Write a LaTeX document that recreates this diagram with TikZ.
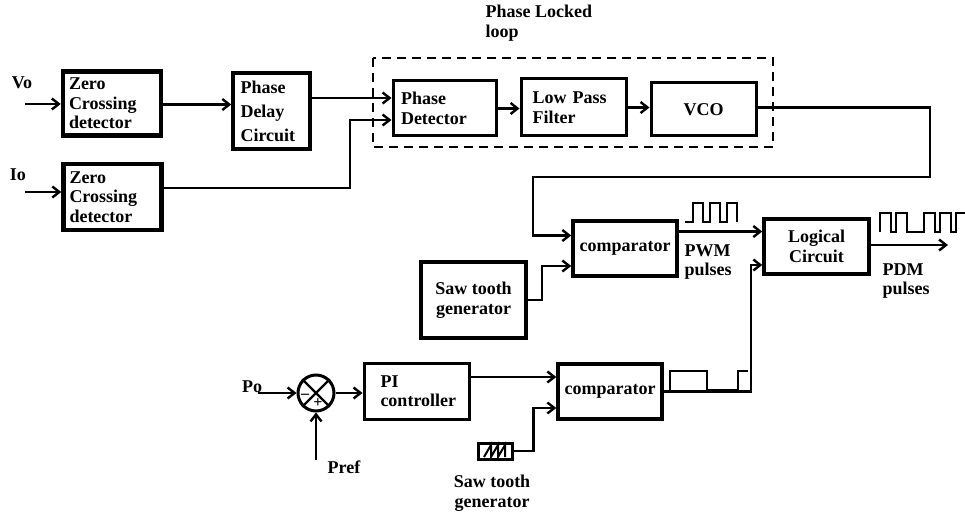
\documentclass[tikz,border=0pt]{standalone}
\usepackage{fontspec}
\setmainfont{Liberation Serif}
\usetikzlibrary{arrows.meta,calc}

\begin{document}
\begin{tikzpicture}[
        x=1pt,   % 1 unit = 1 px of the sheet
        y=-1pt,  % y runs downwards
        every node/.style={font=\bfseries\fontsize{18}{19.5}\selectfont},
        block/.style={draw, line width=3pt, inner sep=0pt, align=left},
        heavy/.style={block, line width=4.5pt},
        arr/.style={-{Straight Barb[length=7pt,width=11pt]}, line width=2.4pt},
        wave/.style={line width=2pt},
    ]

    \useasboundingbox (0,0) rectangle (965,518);

    % Zero crossing detectors
    \node (vo) at (22,83) {Vo};
    \node (io) at (18,175) {Io};
    \node[heavy, minimum width=98pt, minimum height=64pt, text width=86pt] (zcdA) at (112,103.5) {Zero\\Crossing\\detector};
    \node[heavy, minimum width=98pt, minimum height=66pt, text width=86pt] (zcdB) at (112.5,197) {Zero\\Crossing\\detector};
    \coordinate (voIn) at (25,104);
    \coordinate (ioIn) at (25,192);
    \draw[arr] (voIn) -- (voIn -| zcdA.west);
    \draw[arr] (ioIn) -- (ioIn -| zcdB.west);

    % Phase delay
    \node[block, line width=3.5pt, minimum width=77pt, minimum height=76pt, text width=62pt,
          font=\bfseries\fontsize{18}{24}\selectfont] (pdc) at (271.5,111) {Phase\\Delay\\Circuit};
    \draw[arr] ([yshift=-1pt]zcdA.east) -- ([yshift=-1pt]zcdA.east -| pdc.west);

    % Phase locked loop
    \node[align=left, anchor=west] (pllTitle) at (482,23) {Phase Locked\\loop};
    \draw[dash pattern=on 9pt off 6pt, line width=2pt] (373,58) rectangle (773,147);
    \node[block, minimum width=103pt, minimum height=55pt, text width=87pt] (pd) at (444.5,108.5) {Phase\\Detector};
    \node[block, minimum width=105pt, minimum height=57pt, text width=82pt, xshift=3pt] (lpf) at (570.5,107.5) {Low Pass\\Filter};
    \node[block, minimum width=105pt, minimum height=53pt, align=center] (vco) at (703.5,109.5) {VCO};
    \coordinate (jn) at (350,120);
    \draw[arr] ([yshift=13pt]pdc.east) -- ([yshift=13pt]pdc.east -| pd.west);
    \draw[arr] ([yshift=9pt]zcdB.east) -| (jn) -- (jn -| pd.west);
    \draw[arr] (pd.east) -- (pd.east -| lpf.west);
    \draw[arr] (lpf.east) -- (lpf.east -| vco.west);

    % PWM branch
    \node[block, line width=3.5pt, minimum width=104pt, minimum height=55pt, align=center] (cmpA) at (625,248.5) {comparator};
    \node[heavy, minimum width=105pt, minimum height=76pt, align=center] (sawA) at (473.5,300) {Saw tooth\\generator};
    \node[block, line width=3.5pt, minimum width=105pt, minimum height=55pt, align=center] (logic) at (816.5,246.5) {Logical\\Circuit};
    \coordinate (loopR) at (930,177);
    \coordinate (loopL) at (533,177);
    \coordinate (pdmOut) at (948,245);
    \draw[arr] ([yshift=2pt]vco.east) -| (loopR) -- (loopL) |- ([yshift=13pt]cmpA.west);
    \draw[arr] (sawA.east) -- ++(14,0) |- ([yshift=-17.5pt]cmpA.west);
    \draw[arr] ([yshift=17pt]cmpA.east) -- ([yshift=17pt]cmpA.east -| logic.west);
    \draw[arr] (logic.east |- pdmOut) -- (pdmOut);
    \node[align=left, anchor=west] (pwmText) at (681,262) {PWM\\pulses};
    \node[align=left, anchor=west] (pdmText) at (879,281) {PDM\\pulses};

    % Pulse trains
    \draw[wave] (685,222) -- (693,222) -- (693,203) -- (703,203) -- (703,222) -- (710,222) -- (710,203)
        -- (720,203) -- (720,222) -- (727,222) -- (727,203) -- (737,203) -- (737,222);
    \draw[wave] (880,232) -- (880,213) -- (891,213) -- (891,232) -- (896,232) -- (896,213) -- (907,213)
        -- (907,232) -- (924,232) -- (924,213) -- (935,213) -- (935,232) -- (940,232) -- (940,213)
        -- (951,213) -- (951,232) -- (956,232) -- (956,213) -- (965,213);
    \draw[wave] (670,390) -- (670,371) -- (707,371) -- (707,390) -- (738,390) -- (738,371) -- (748,371);

    % Power loop
    \node (po) at (252,387) {Po};
    \node (pref) at (344,467) {Pref};
    \node[draw, circle, line width=3pt, minimum size=36pt, inner sep=0pt] (sum) at (316,393) {};
    \draw[line width=2.4pt] (sum.135) -- (sum.-45) (sum.45) -- (sum.-135);
    \node[font=\bfseries\fontsize{16}{16}\selectfont] (minus) at (305,396) {--};
    \node[font=\bfseries\fontsize{16}{16}\selectfont] (plus) at (318,403) {+};
    \coordinate (poIn) at (258,393);
    \coordinate (prefIn) at (316,460);
    \draw[arr] (poIn) -- (sum.west);
    \draw[arr] (prefIn) -- (sum.south);

    \node[block, minimum width=105pt, minimum height=56pt, text width=72pt] (pi) at (416.5,391) {PI\\controller};
    \node[block, line width=3.5pt, minimum width=104pt, minimum height=55pt, align=center] (cmpB) at (610,391.5) {comparator};
    \node[block, minimum width=34pt, minimum height=16pt] (sawB) at (495,451) {};
    \draw[line width=2pt] ($(sawB.center)+(-11,6)$) -- ++(7,-12) -- ++(0,12) -- ++(7,-12) -- ++(0,12) -- ++(7,-12) -- ++(0,12);
    \node[align=center] (sawBText) at (492,493) {Saw tooth\\generator};
    \draw[arr] (sum.east) -- (sum.east -| pi.west);
    \draw[arr] ([yshift=14pt]pi.east) -- ([yshift=14pt]pi.east -| cmpB.west);
    \draw[arr] (sawB.east) -- ++(20,0) |- ([yshift=-16.5pt]cmpB.west);
    \draw[arr] (cmpB.east) -- ++(87,0) |- ([yshift=-18.5pt]logic.west);

\end{tikzpicture}
\end{document}
